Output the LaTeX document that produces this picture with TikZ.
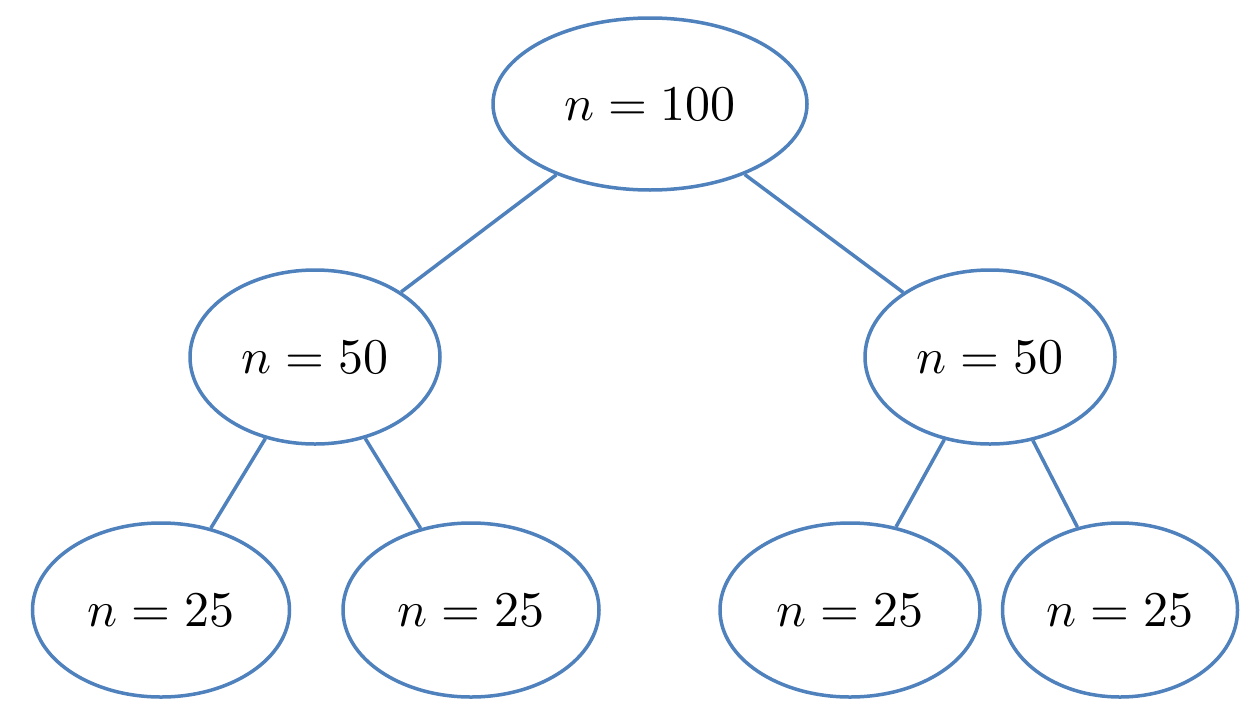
\documentclass[tikz,border=0pt]{standalone}
\usepackage{graphicx}
\usetikzlibrary{shapes.geometric}
\definecolor{obl}{HTML}{4F81BD}
\newcommand{\lbl}[1]{\scalebox{5}{$#1$}}
\begin{document}
\begin{tikzpicture}[x=1pt,y=-1pt,
  tnode/.style={draw=obl,line width=3.5pt,ellipse,fill=white,inner sep=0pt},
  tedge/.style={draw=obl,line width=3.5pt}]
\useasboundingbox[fill=white] (0,0) rectangle (1241,704);
\node[tnode,minimum width=314pt,minimum height=172pt] (root) at (650,104) {\lbl{n = 100}};
\node[tnode,minimum width=250pt,minimum height=174pt] (ml) at (315,357) {\lbl{n = 50}};
\node[tnode,minimum width=250pt,minimum height=174pt] (mr) at (990,357) {\lbl{n = 50}};
\node[tnode,minimum width=257pt,minimum height=174pt] (l1) at (161,610) {\lbl{n = 25}};
\node[tnode,minimum width=256pt,minimum height=174pt] (l2) at (471,610) {\lbl{n = 25}};
\node[tnode,minimum width=260pt,minimum height=174pt] (l3) at (850,610) {\lbl{n = 25}};
\node[tnode,minimum width=235pt,minimum height=174pt] (l4) at (1120,610) {\lbl{n = 25}};
\draw[tedge] (root) -- (ml);
\draw[tedge] (root) -- (mr);
\draw[tedge] (ml) -- (l1);
\draw[tedge] (ml) -- (l2);
\draw[tedge] (mr) -- (l3);
\draw[tedge] (mr) -- (l4);
\end{tikzpicture}
\end{document}
